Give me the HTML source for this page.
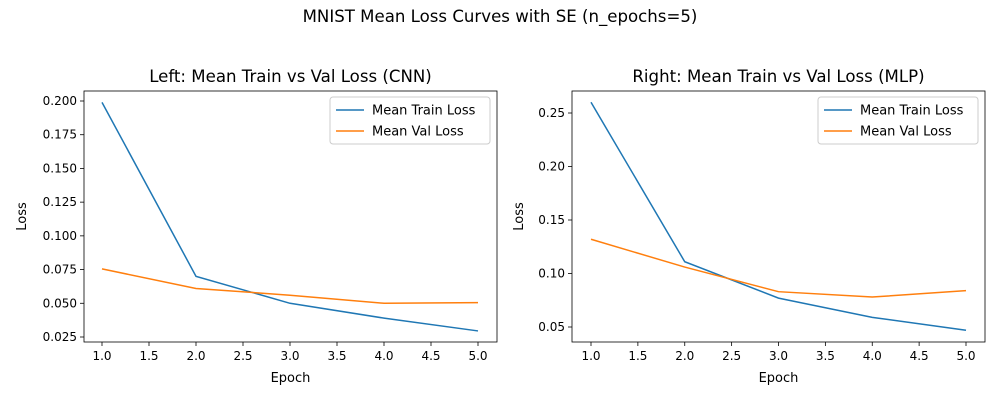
<!DOCTYPE html>
<html><head><meta charset="utf-8"><style>
body{margin:0;background:#fff;font-family:"Liberation Sans","DejaVu Sans",sans-serif}
svg text{font-family:"DejaVu Sans","Liberation Sans",sans-serif}
</style></head><body>
<svg id="chart" width="1000" height="400" xmlns="http://www.w3.org/2000/svg">
<rect width="1000" height="400" fill="#fff"/>
<text x="500" y="22" font-size="16.6" text-anchor="middle">MNIST Mean Loss Curves with SE (n_epochs=5)</text>
</svg>
<script>
const epochs=[1,2,3,4,5];
const cnnTrain=[0.199,0.070,0.050,0.039,0.0295];
const cnnVal=[0.0755,0.061,0.056,0.050,0.0505];
const mlpTrain=[0.260,0.111,0.077,0.059,0.047];
const mlpVal=[0.132,0.106,0.083,0.078,0.084];
const xTicks=[1.0,1.5,2.0,2.5,3.0,3.5,4.0,4.5,5.0];
const cnnYTicks=[0.025,0.050,0.075,0.100,0.125,0.150,0.175,0.200];
const mlpYTicks=[0.05,0.10,0.15,0.20,0.25];
const NS='http://www.w3.org/2000/svg';
const svg=document.getElementById('chart');
function mk(t,a,p){const e=document.createElementNS(NS,t);for(const k in a)e.setAttribute(k,a[k]);(p||svg).appendChild(e);return e;}
function panel(o){
  const g=mk('g',{});
  
  
  const L=o.left,R=o.left+413,T=91,B=342;
  const xs=v=>o.x1px+(v-1)*(o.x5px-o.x1px)/4;
  const ys=v=>o.yApx+(v-o.yA)*(o.yBpx-o.yApx)/(o.yB-o.yA);
  const t=mk('text',{x:(L+R)/2,y:82,'font-size':16.6,'text-anchor':'middle'},g);t.textContent=o.title;
  
  xTicks.forEach(v=>{const x=xs(v);mk('line',{x1:x,x2:x,y1:B,y2:B+4,stroke:'#000','stroke-width':0.8},g);
    const tx=mk('text',{x:x,y:B+18,'font-size':12,'text-anchor':'middle'},g);tx.textContent=v.toFixed(1);
    });
  o.yTicks.forEach(v=>{const y=ys(v);mk('line',{x1:L,x2:L-4,y1:y,y2:y,stroke:'#000','stroke-width':0.8},g);
    const tx=mk('text',{x:L-7,y:y+4,'font-size':12,'text-anchor':'end'},g);tx.textContent=v.toFixed(o.dec);
    });
  const xl=mk('text',{x:(L+R)/2,y:382,'font-size':13,'text-anchor':'middle'},g);xl.textContent='Epoch';
  
  const yx=o.ylabelX,yl=mk('text',{x:yx,y:(T+B)/2,'font-size':13,'text-anchor':'middle',transform:`rotate(-90 ${yx} ${(T+B)/2})`},g);yl.textContent='Loss';
  
  [[o.train,'#1f77b4','train-line'],[o.val,'#ff7f0e','val-line']].forEach(([d,c,n])=>{
    const p=mk('polyline',{points:d.map((v,i)=>xs(epochs[i])+','+ys(v)).join(' '),fill:'none',stroke:c,'stroke-width':1.5},g);
    });
  mk('rect',{x:L,y:T,width:R-L,height:B-T,fill:'none',stroke:'#000','stroke-width':0.8},g);
  const lg=mk('g',{},g);
  const lx=R-167;
  mk('rect',{x:lx,y:97,width:160,height:47,rx:3,fill:'#fff',stroke:'#ccc','stroke-width':1},lg);
  [['Mean Train Loss','#1f77b4',110],['Mean Val Loss','#ff7f0e',131]].forEach(([s,c,y])=>{
    mk('line',{x1:lx+6,x2:lx+34,y1:y,y2:y,stroke:c,'stroke-width':1.5},lg);
    const tt=mk('text',{x:lx+42,y:y+4.5,'font-size':13},lg);tt.textContent=s;
    });
}
panel({name:'left-panel-cnn',title:'Left: Mean Train vs Val Loss (CNN)',left:84,x1px:102,x5px:478,ylabelX:26,
  yA:0.025,yApx:337,yB:0.200,yBpx:101,yTicks:cnnYTicks,dec:3,train:cnnTrain,val:cnnVal});
panel({name:'right-panel-mlp',title:'Right: Mean Train vs Val Loss (MLP)',left:572,x1px:591,x5px:966,ylabelX:523,
  yA:0.05,yApx:327,yB:0.25,yBpx:113,yTicks:mlpYTicks,dec:2,train:mlpTrain,val:mlpVal});
</script>
</body></html>
